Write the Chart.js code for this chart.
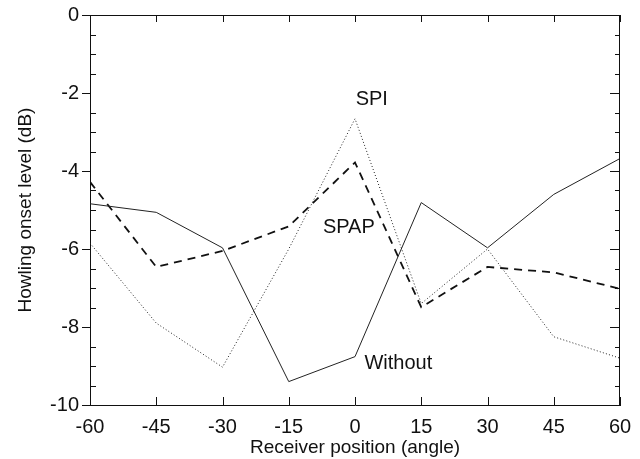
<!DOCTYPE html>
<html>
<head>
<meta charset="utf-8">
<script src="https://cdn.jsdelivr.net/npm/chart.js@4/dist/chart.umd.min.js"></script>
<style>
  html, body { margin: 0; padding: 0; background: #fff; }
  #wrap { width: 640px; height: 459px; }
</style>
</head>
<body>
<div id="wrap"><canvas id="howlChart"></canvas></div>
<script>
// receiver angle (x) and howling onset level (dB) per condition
const angles = [-60, -45, -30, -15, 0, 15, 30, 45, 60];
const withoutVals = [-4.84, -5.06, -5.97, -9.4, -8.76, -4.81, -5.97, -4.6, -3.68];
const spapVals = [-4.28, -6.46, -6.05, -5.42, -3.78, -7.49, -6.46, -6.6, -7.02];
const spiVals = [-5.85, -7.9, -9.03, -6.0, -2.66, -7.4, -6.0, -8.25, -8.8];
const xTicks = [-60, -45, -30, -15, 0, 15, 30, 45, 60];
const yTicks = [0, -2, -4, -6, -8, -10];

// curve names written inside the plot
const curveNames = ['SPI', 'SPAP', 'Without'];
const nameAt = [[3.8, -2.16], [-1.4, -5.46], [9.8, -8.93]];

const ink = '#111';
const font = 'Arial, "Liberation Sans", Helvetica, sans-serif';

const toPoints = vals => angles.map((a, i) => ({ x: a, y: vals[i] }));

// frame on top/right, inward ticks on all four sides, curve names
const framePlugin = {
    id: 'frame',
    afterDraw(chart) {
        const { ctx, chartArea: a, scales: { x, y } } = chart;
        const L = Math.round(a.left), R = Math.round(a.right);
        const T = Math.round(a.top), B = Math.round(a.bottom);
        ctx.save();
        ctx.setLineDash([]);
        ctx.fillStyle = ink;
        ctx.fillRect(L, T, R - L, 1);
        ctx.fillRect(R - 1, T, 1, B - T);

        xTicks.forEach(v => {
            const px = Math.round(x.getPixelForValue(v));
            ctx.fillRect(px, B - 8, 1, 8);
            ctx.fillRect(px, T, 1, 7);
        });
        for (let v = 0; v >= -10; v -= 0.5) {
            const py = Math.round(y.getPixelForValue(v));
            const major = v % 2 === 0;
            if (major) ctx.fillRect(L - 8, py, 8, 1);
            else ctx.fillRect(L, py, 6, 1);
            const len = major ? 10 : 5;
            ctx.fillRect(R - len, py, len, 1);
        }

        ctx.font = '20px ' + font;
        ctx.textAlign = 'center';
        ctx.textBaseline = 'middle';
        curveNames.forEach((name, i) => {
            ctx.fillText(name, x.getPixelForValue(nameAt[i][0]), y.getPixelForValue(nameAt[i][1]));
        });
        ctx.restore();
    }
};

new Chart(document.getElementById('howlChart'), {
    type: 'line',
    data: {
        datasets: [
            {
                label: 'Without',
                data: toPoints(withoutVals),
                borderColor: '#222',
                borderWidth: 1,
                pointRadius: 0
            },
            {
                label: 'SPAP',
                data: toPoints(spapVals),
                borderColor: '#111',
                borderWidth: 1.8,
                borderDash: [8, 6],
                pointRadius: 0
            },
            {
                label: 'SPI',
                data: toPoints(spiVals),
                borderColor: '#222',
                borderWidth: 1,
                borderDash: [1, 2.2],
                pointRadius: 0
            }
        ]
    },
    options: {
        responsive: true,
        maintainAspectRatio: false,
        animation: false,
        layout: { padding: { top: 2, right: 20, left: 0, bottom: 0 } },
        plugins: {
            legend: { display: false },
            tooltip: { enabled: false }
        },
        scales: {
            x: {
                type: 'linear',
                min: -60,
                max: 60,
                afterBuildTicks: s => { s.ticks = xTicks.map(v => ({ value: v })); },
                afterFit: s => { s.height = 54; },
                grid: { display: false },
                border: { display: true, color: ink, width: 1 },
                ticks: { color: ink, font: { family: font, size: 20 }, padding: 2, maxRotation: 0 },
                title: {
                    display: true,
                    text: 'Receiver position (angle)',
                    color: ink,
                    font: { family: font, size: 19 },
                    padding: { top: 0, bottom: 0 }
                }
            },
            y: {
                type: 'linear',
                min: -10,
                max: 0,
                afterBuildTicks: s => { s.ticks = yTicks.map(v => ({ value: v })); },
                afterFit: s => { s.width = 90; },
                grid: { display: false },
                border: { display: true, color: ink, width: 1 },
                ticks: { color: ink, font: { family: font, size: 20 }, padding: 3 },
                title: {
                    display: true,
                    text: 'Howling onset level (dB)',
                    color: ink,
                    font: { family: font, size: 19 },
                    padding: { top: 14, bottom: 4 }
                }
            }
        }
    },
    plugins: [framePlugin]
});
</script>
</body>
</html>
